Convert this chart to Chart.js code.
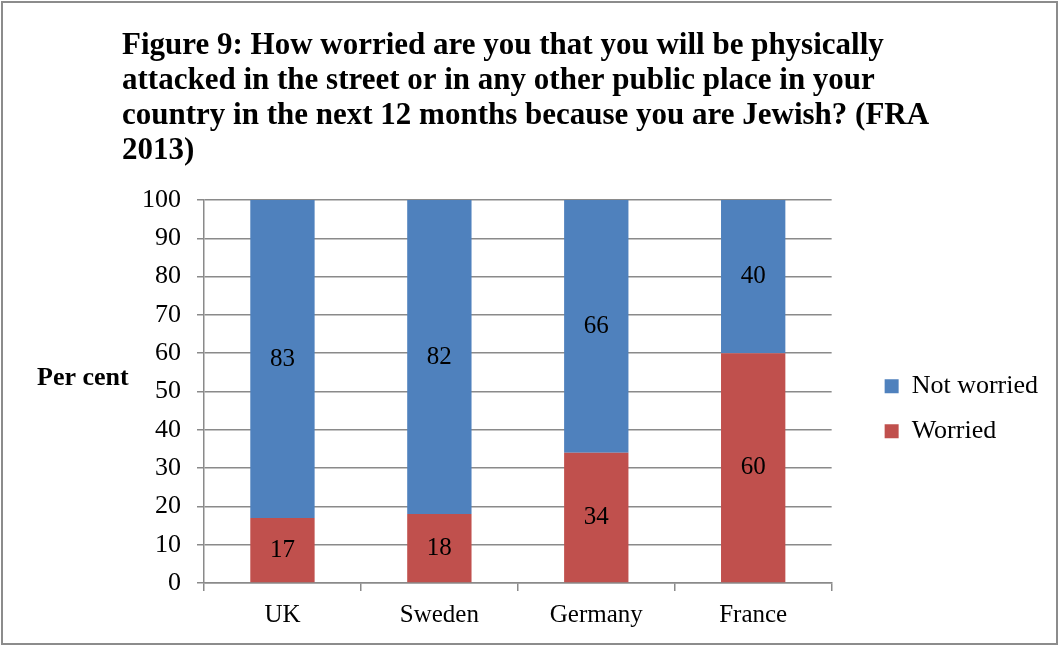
<!DOCTYPE html>
<html>
<head>
<meta charset="utf-8">
<script src="https://cdn.jsdelivr.net/npm/chart.js@4"></script>
<style>
  html, body { margin: 0; padding: 0; background: #fff; }
  #wrap { position: relative; width: 1059px; height: 646px; }
</style>
</head>
<body>
<div id="wrap"><canvas id="chart" width="1059" height="646"></canvas></div>
<script>
const COUNTRIES = ['UK', 'Sweden', 'Germany', 'France'];
const WORRIED = [17, 18, 34, 60];
const NOT_WORRIED = [83, 82, 66, 40];
const TITLE_LINES = [
  'Figure 9: How worried are you that you will be physically',
  'attacked in the street or in any other public place in your',
  'country in the next 12 months because you are Jewish? (FRA',
  '2013)',
];
const Y_LABEL = 'Per cent';

const SERIF = "'Liberation Serif', 'DejaVu Serif', serif";
const GRID = '#8a8a8a';

// ── frame + "Per cent" + segment values ──
const extras = {
  id: 'extras',
  beforeDraw(chart) {
    const ctx = chart.ctx;
    ctx.save();
    ctx.fillStyle = '#fff';
    ctx.fillRect(0, 0, chart.width, chart.height);
    ctx.strokeStyle = '#8c8c8c';
    ctx.lineWidth = 2;
    ctx.strokeRect(2, 2, chart.width - 4, chart.height - 4);
    ctx.restore();
  },
  afterDatasetsDraw(chart) {
    const ctx = chart.ctx;
    ctx.save();
    ctx.fillStyle = '#000';
    ctx.textAlign = 'center';
    ctx.textBaseline = 'middle';
    ctx.font = `25px ${SERIF}`;
    chart.data.datasets.forEach((ds, i) => {
      chart.getDatasetMeta(i).data.forEach((bar, j) => {
        const { x, y, base } = bar.getProps(['x', 'y', 'base'], true);
        ctx.fillText(ds.data[j], x, (y + base) / 2);
      });
    });
    // horizontal axis title on the left
    const ys = chart.scales.y;
    ctx.textAlign = 'left';
    ctx.font = `bold 26px ${SERIF}`;
    ctx.fillText(Y_LABEL, 37, ys.getPixelForValue(53.5));
    ctx.restore();
  },
};

new Chart(document.getElementById('chart'), {
  type: 'bar',
  data: {
    labels: COUNTRIES,
    datasets: [
      { label: 'Worried', data: WORRIED, backgroundColor: '#C0504D' },
      { label: 'Not worried', data: NOT_WORRIED, backgroundColor: '#4F81BD' },
    ],
  },
  options: {
    responsive: false,
    animation: false,
    layout: { padding: { top: 10, left: 122, right: 11, bottom: 8 } },
    datasets: { bar: { categoryPercentage: 1, barPercentage: 0.41 } },
    plugins: {
      title: {
        display: true,
        text: TITLE_LINES,
        align: 'start',
        color: '#000',
        font: { family: SERIF, size: 31, weight: 'bold', lineHeight: 35 / 31 },
        padding: { top: 18, bottom: 32 },
      },
      legend: {
        position: 'right',
        fullSize: false,
        maxWidth: 300,
        reverse: true,
        // blank title only nudges the entries down a little
        title: { display: true, text: ' ', font: { size: 12, lineHeight: 1.2 }, padding: { top: 10, bottom: 10 } },
        labels: {
          boxWidth: 14,
          boxHeight: 14,
          padding: 19,
          color: '#000',
          font: { family: SERIF, size: 26 },
        },
      },
      tooltip: { enabled: false },
    },
    scales: {
      x: {
        stacked: true,
        grid: { offset: true, drawOnChartArea: false, drawTicks: true, tickLength: 8, color: GRID, lineWidth: 1.5 },
        border: { color: GRID, width: 1.5 },
        ticks: { color: '#000', font: { family: SERIF, size: 25 }, padding: 9 },
        afterFit: (s) => { s.height = 55; },
      },
      y: {
        stacked: true,
        min: 0,
        max: 100,
        ticks: { stepSize: 10, color: '#000', font: { family: SERIF, size: 26 }, padding: 16 },
        grid: { color: GRID, lineWidth: 1.5, tickLength: 7 },
        border: { color: GRID, width: 1.5 },
        afterFit: (s) => { s.width = 82; },
      },
      pad: {
        position: 'right',
        display: true,
        grid: { display: false },
        border: { display: false },
        ticks: { display: false },
        afterFit: (s) => { s.width = 34; },
      },
    },
  },
  plugins: [extras],
});
</script>
</body>
</html>
